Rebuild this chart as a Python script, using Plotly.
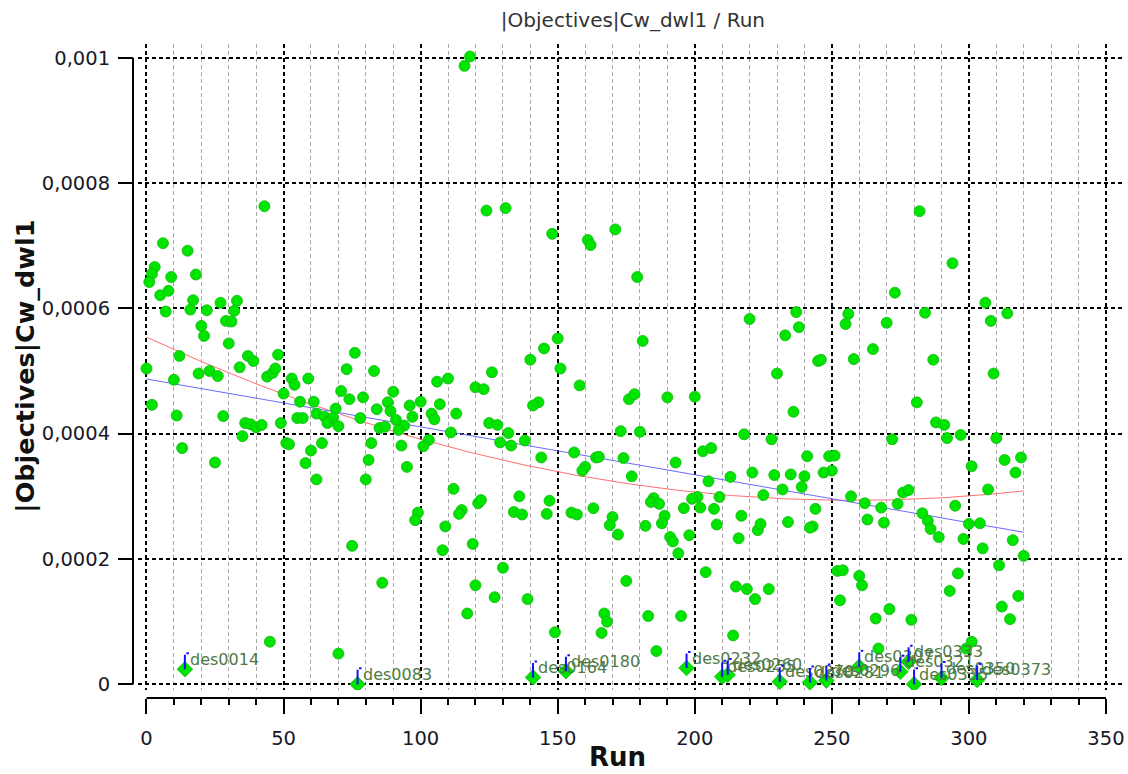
import numpy as np
import plotly.graph_objects as go

# ---- data -------------------------------------------------------------
# Run index and |Objectives|Cw_dwl1 value for every evaluated design
runs = [
    6, 15, 3, 2, 9, 18, 1, 5, 8, 17, 16, 7, 22, 27, 33, 32, 29, 31, 20, 21, 30, 43,
    12, 37, 39, 48, 0, 10, 19, 23, 26, 34, 44, 46, 47, 2, 11, 28, 36, 38, 40, 42,
    49, 35, 13, 25, 76, 73, 83, 53, 54, 59, 50, 71, 74, 79, 90, 56, 61, 69, 88, 89,
    84, 96, 100, 106, 110, 120, 107, 104, 105, 113, 97, 62, 65, 67, 68, 66, 55, 57,
    78, 70, 91, 94, 92, 85, 87, 111, 51, 52, 64, 60, 82, 93, 103, 101, 58, 81, 95,
    62, 80, 112, 99, 98, 109, 115, 114, 108, 119, 121, 75, 86, 120, 45, 70, 117, 127,
    118, 116, 124, 131, 148, 161, 162, 171, 179, 220, 237, 238, 233, 150, 145, 181,
    140, 151, 126, 230, 245, 123, 158, 176, 178, 190, 200, 143, 141, 236, 125, 128,
    132, 129, 133, 138, 173, 180, 218, 228, 144, 156, 160, 159, 164, 165, 174, 177,
    193, 203, 206, 241, 205, 213, 221, 229, 235, 240, 239, 232, 225, 136, 147, 185,
    201, 209, 122, 134, 137, 146, 155, 157, 163, 170, 169, 172, 182, 184, 187, 189,
    188, 191, 192, 194, 198, 196, 199, 202, 207, 208, 217, 216, 223, 224, 234, 243,
    244, 130, 139, 175, 204, 215, 219, 222, 227, 149, 167, 168, 166, 183, 195, 186,
    214, 253, 266, 271, 279, 267, 312, 315, 301, 299, 282, 294, 273, 306, 256, 255,
    270, 284, 308, 314, 265, 246, 258, 287, 309, 281, 288, 291, 292, 297, 310, 272,
    249, 251, 250, 247, 301, 313, 319, 317, 307, 257, 276, 278, 274, 262, 268, 295,
    283, 285, 286, 289, 263, 269, 242, 300, 304, 298, 305, 316, 320, 311, 252, 254,
    260, 261, 296, 293, 318,
]
cw_dwl1 = [
    7.04e-4, 6.92e-4, 6.66e-4, 6.55e-4, 6.50e-4, 6.54e-4, 6.42e-4, 6.21e-4, 6.28e-4,
    6.13e-4, 5.98e-4, 5.95e-4, 5.97e-4, 6.09e-4, 6.12e-4, 5.96e-4, 5.80e-4, 5.79e-4,
    5.72e-4, 5.56e-4, 5.44e-4, 7.63e-4, 5.24e-4, 5.24e-4, 5.16e-4, 5.26e-4, 5.04e-4,
    4.86e-4, 4.96e-4, 5.00e-4, 4.92e-4, 5.06e-4, 4.91e-4, 4.97e-4, 5.04e-4, 4.46e-4,
    4.29e-4, 4.28e-4, 4.17e-4, 4.15e-4, 4.10e-4, 4.14e-4, 4.17e-4, 3.96e-4, 3.77e-4,
    3.54e-4, 5.29e-4, 5.03e-4, 5.00e-4, 4.88e-4, 4.78e-4, 4.88e-4, 4.64e-4, 4.68e-4,
    4.55e-4, 4.58e-4, 4.67e-4, 4.51e-4, 4.51e-4, 4.40e-4, 4.50e-4, 4.36e-4, 4.39e-4,
    4.45e-4, 4.51e-4, 4.83e-4, 4.88e-4, 4.74e-4, 4.47e-4, 4.32e-4, 4.23e-4, 4.32e-4,
    4.27e-4, 4.32e-4, 4.27e-4, 4.21e-4, 4.25e-4, 4.17e-4, 4.25e-4, 4.25e-4, 4.25e-4,
    4.12e-4, 4.22e-4, 4.13e-4, 4.06e-4, 4.09e-4, 4.11e-4, 4.02e-4, 3.85e-4, 3.83e-4,
    3.85e-4, 3.73e-4, 3.85e-4, 3.81e-4, 3.90e-4, 3.80e-4, 3.53e-4, 3.58e-4, 3.47e-4,
    3.27e-4, 3.27e-4, 3.12e-4, 2.74e-4, 2.62e-4, 2.52e-4, 2.78e-4, 2.72e-4, 2.14e-4,
    2.24e-4, 2.89e-4, 2.21e-4, 1.62e-4, 1.58e-4, 0.68e-4, 0.49e-4, 1.13e-4, 1.39e-4,
    10.02e-4, 9.87e-4, 7.56e-4, 7.60e-4, 7.19e-4, 7.09e-4, 7.01e-4, 7.26e-4, 6.50e-4,
    5.83e-4, 5.94e-4, 5.70e-4, 5.57e-4, 5.52e-4, 5.36e-4, 5.48e-4, 5.18e-4, 5.04e-4,
    4.98e-4, 4.96e-4, 5.16e-4, 4.71e-4, 4.77e-4, 4.55e-4, 4.63e-4, 4.58e-4, 4.59e-4,
    4.50e-4, 4.45e-4, 4.35e-4, 4.17e-4, 4.14e-4, 4.01e-4, 3.86e-4, 3.81e-4, 3.89e-4,
    4.04e-4, 4.03e-4, 3.99e-4, 3.91e-4, 3.62e-4, 3.70e-4, 3.47e-4, 3.41e-4, 3.62e-4,
    3.63e-4, 3.61e-4, 3.32e-4, 3.54e-4, 3.72e-4, 3.77e-4, 3.64e-4, 3.24e-4, 3.31e-4,
    3.38e-4, 3.34e-4, 3.35e-4, 3.32e-4, 3.15e-4, 3.11e-4, 3.02e-4, 3.00e-4, 2.93e-4,
    2.97e-4, 2.99e-4, 2.99e-4, 2.94e-4, 2.75e-4, 2.71e-4, 2.72e-4, 2.74e-4, 2.71e-4,
    2.81e-4, 2.67e-4, 2.54e-4, 2.39e-4, 2.53e-4, 2.91e-4, 2.88e-4, 2.69e-4, 2.57e-4,
    2.35e-4, 2.28e-4, 2.09e-4, 2.38e-4, 2.81e-4, 2.96e-4, 2.82e-4, 2.80e-4, 2.55e-4,
    2.69e-4, 2.33e-4, 2.46e-4, 2.56e-4, 2.59e-4, 2.52e-4, 2.80e-4, 1.86e-4, 1.36e-4,
    1.65e-4, 1.79e-4, 1.56e-4, 1.52e-4, 1.36e-4, 1.52e-4, 0.83e-4, 1.13e-4, 1.00e-4,
    0.82e-4, 1.09e-4, 1.09e-4, 0.53e-4, 0.78e-4, 1.34e-4, 1.05e-4, 1.20e-4, 1.03e-4,
    0.57e-4, 1.24e-4, 1.04e-4, 0.68e-4, 0.57e-4, 7.55e-4, 6.72e-4, 6.25e-4, 6.09e-4,
    5.91e-4, 5.75e-4, 5.77e-4, 5.93e-4, 5.80e-4, 5.92e-4, 5.35e-4, 5.18e-4, 5.19e-4,
    5.18e-4, 4.96e-4, 4.50e-4, 4.18e-4, 4.14e-4, 3.93e-4, 3.98e-4, 3.93e-4, 3.91e-4,
    3.64e-4, 3.65e-4, 3.41e-4, 3.38e-4, 3.48e-4, 3.58e-4, 3.62e-4, 3.38e-4, 3.11e-4,
    3.00e-4, 3.06e-4, 3.10e-4, 2.88e-4, 2.89e-4, 2.82e-4, 2.85e-4, 2.73e-4, 2.61e-4,
    2.48e-4, 2.35e-4, 2.63e-4, 2.58e-4, 2.50e-4, 2.56e-4, 2.57e-4, 2.32e-4, 2.17e-4,
    2.30e-4, 2.05e-4, 1.90e-4, 1.81e-4, 1.82e-4, 1.73e-4, 1.58e-4, 1.77e-4, 1.49e-4,
    1.41e-4,
]

# Designs flagged with a name tag
tagged_runs = [14, 77, 141, 153, 197, 210, 212, 231, 242, 248, 260, 275, 278, 280, 290, 303]
tagged_values = [0.24e-4, 0.00e-4, 0.11e-4, 0.21e-4, 0.26e-4, 0.12e-4, 0.15e-4, 0.04e-4,
                 0.03e-4, 0.06e-4, 0.28e-4, 0.20e-4, 0.36e-4, 0.00e-4, 0.10e-4, 0.07e-4]
tagged_names = ["des0014", "des0083", "des0164", "des0180", "des0232", "des0255",
                "des0260", "des0270", "des0281", "des0296", "des0307", "des0321",
                "des0333", "des0335", "des0350", "des0373"]

x_tickvals = [0, 50, 100, 150, 200, 250, 300, 350]
x_ticktext = ["0", "50", "100", "150", "200", "250", "300", "350"]
y_tickvals = [0, 0.0002, 0.0004, 0.0006, 0.0008, 0.001]
y_ticktext = ["0", "0,0002", "0,0004", "0,0006", "0,0008", "0,001"]

# ---- trend curves (least squares over all designs) --------------------
all_x = np.array(runs + tagged_runs, dtype=float)
all_y = np.array(cw_dwl1 + tagged_values, dtype=float)
fit_x = np.linspace(0, all_x.max(), 200)
lin = np.polyval(np.polyfit(all_x, all_y, 1), fit_x)
quad = np.polyval(np.polyfit(all_x, all_y, 2), fit_x)

FONT = "DejaVu Sans"
GREEN = "#00e400"
GREEN_EDGE = "#10b810"

fig = go.Figure()
fig.add_trace(go.Scatter(x=fit_x, y=quad, mode="lines",
                         line=dict(color="#ff7070", width=1), hoverinfo="skip"))
fig.add_trace(go.Scatter(x=fit_x, y=lin, mode="lines",
                         line=dict(color="#6a6aff", width=1), hoverinfo="skip"))
fig.add_trace(go.Scatter(x=runs, y=cw_dwl1, mode="markers",
                         marker=dict(symbol="circle", size=11, color=GREEN,
                                     line=dict(color=GREEN_EDGE, width=0.8))))
fig.add_trace(go.Scatter(x=tagged_runs, y=tagged_values, mode="markers",
                         marker=dict(symbol="diamond", size=12, color=GREEN,
                                     line=dict(color=GREEN_EDGE, width=0.8))))

annotations = []
for rx, ry, name in zip(tagged_runs, tagged_values, tagged_names):
    # bracket stem
    annotations.append(dict(x=rx, y=ry, xref="x", yref="y", text="", showarrow=True,
                            ax=0, ay=-16, arrowhead=0, arrowwidth=2, arrowcolor="#1010ff",
                            standoff=0, startstandoff=0))
    # bracket serif
    annotations.append(dict(x=rx, y=ry, xref="x", yref="y", text="", showarrow=True,
                            ax=-4, ay=0, yshift=16, xshift=4, arrowhead=0, arrowwidth=2,
                            arrowcolor="#1010ff", standoff=0, startstandoff=0))
    annotations.append(dict(x=rx, y=ry, xref="x", yref="y", text=name, showarrow=False,
                            xanchor="left", yanchor="middle", xshift=3, yshift=10,
                            font=dict(family=FONT, size=16, color="#4f7a45")))

annotations += [
    dict(text="<b>Run</b>", xref="paper", yref="paper", x=0.488, y=-0.090,
         xanchor="center", yanchor="middle", showarrow=False,
         font=dict(family=FONT, size=26, color="#111")),
    dict(text="<b>|Objectives|Cw_dwl1</b>", xref="paper", yref="paper", x=-0.109, y=0.508,
         xanchor="center", yanchor="middle", textangle=-90, showarrow=False,
         font=dict(family=FONT, size=25.5, color="#111")),
]

fig.update_layout(
    width=1128, height=774,
    margin=dict(l=133, r=3, t=44, b=76),
    paper_bgcolor="white", plot_bgcolor="white",
    showlegend=False,
    title=dict(text="|Objectives|Cw_dwl1 / Run", x=0.504, xref="paper",
               y=1 - 20 / 774, yref="container", xanchor="center", yanchor="middle",
               font=dict(family=FONT, size=20, color="#333")),
    annotations=annotations,
    shapes=[
        dict(type="line", xref="x", yref="paper", x0=0, x1=350, y0=0, y1=0,
             line=dict(color="black", width=2)),
        dict(type="line", xref="paper", yref="y", x0=0, x1=0, y0=0, y1=0.001,
             line=dict(color="black", width=2)),
    ],
)

fig.update_xaxes(
    domain=[0.00504, 1], range=[-3.10, 356.94], anchor="free", position=0,
    tickmode="array", tickvals=x_tickvals, ticktext=x_ticktext,
    ticks="outside", ticklen=15, tickwidth=2, tickcolor="black",
    ticklabelstandoff=8,
    showline=False, zeroline=False,
    showgrid=True, gridcolor="black", gridwidth=1.5, griddash="4px,3px",
    minor=dict(dtick=10, tick0=0, ticks="outside", ticklen=6, tickwidth=1.5,
               tickcolor="black", showgrid=True, gridcolor="#a8a8a8", gridwidth=1,
               griddash="4px,3px"),
    tickfont=dict(family=FONT, size=19.5, color="#181828"),
)
fig.update_yaxes(
    domain=[0.01223, 1], range=[-9.1e-6, 1.0219e-3], anchor="free", position=0,
    tickmode="array", tickvals=y_tickvals, ticktext=y_ticktext,
    ticks="outside", ticklen=15, tickwidth=2, tickcolor="black",
    ticklabelstandoff=4,
    showline=False, zeroline=False,
    showgrid=True, gridcolor="black", gridwidth=1.5, griddash="4px,3px",
    tickfont=dict(family=FONT, size=19.5, color="#181828"),
)

fig.write_html("out.html")
